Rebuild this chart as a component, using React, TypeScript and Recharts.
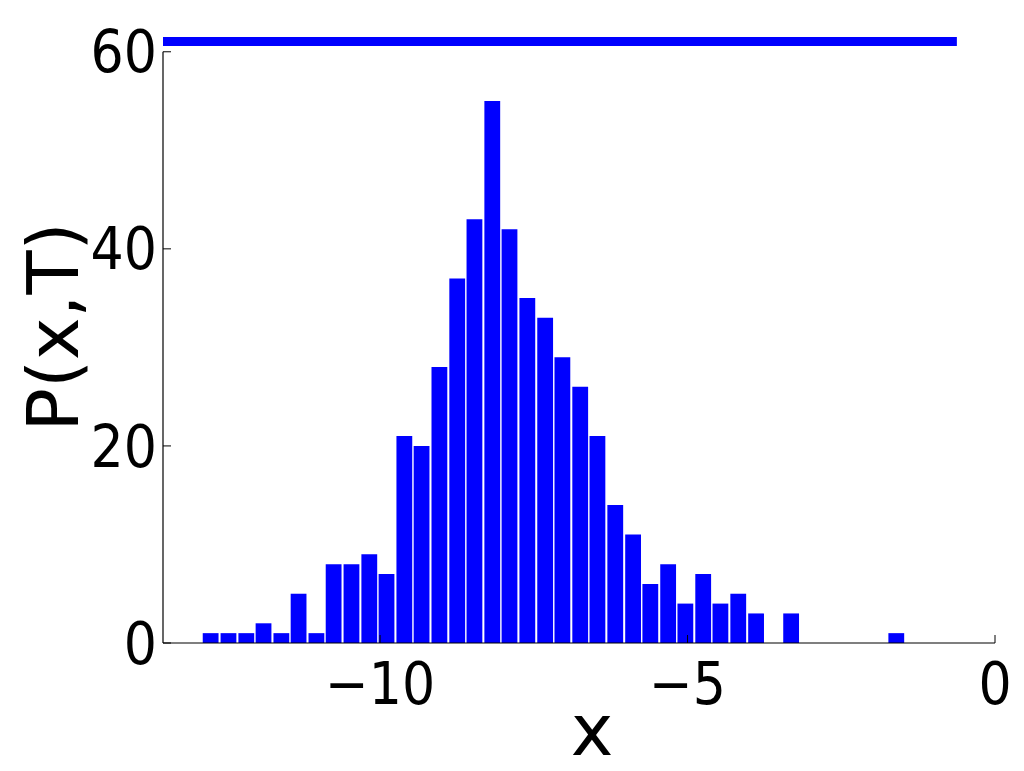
import { ComposedChart, Bar, Line, XAxis, YAxis, ReferenceLine } from "recharts";

// histogram bins (centres) and counts
const binCenters = [
  -12.76, -12.47, -12.18, -11.9, -11.61, -11.33, -11.04, -10.76, -10.47, -10.18,
  -9.9, -9.61, -9.33, -9.04, -8.75, -8.47, -8.18, -7.9, -7.61, -7.32,
  -7.04, -6.75, -6.47, -6.18, -5.89, -5.61, -5.32, -5.04, -4.75, -4.47,
  -4.18, -3.89, -3.61, -3.32, -3.04, -2.75, -2.46, -2.18, -1.89, -1.61,
];
const counts = [
  1, 1, 1, 2, 1, 5, 1, 8, 8, 9,
  7, 21, 20, 28, 37, 43, 55, 42, 35, 33,
  29, 26, 21, 14, 11, 6, 8, 4, 7, 4,
  5, 3, 0, 3, 0, 0, 0, 0, 0, 1,
];

// flat band drawn across the top
const topLineX = [-13.53, -0.62];
const topLineY = [61.05, 61.05];

const xDomain = [-13.53, 0];
const yDomain = [0, 61.5];
const xTicks = [-10, -5, 0];
const yTicks = [0, 20, 40, 60];

const histData = binCenters.map((x, i) => ({ x, count: counts[i] }));
const topLineData = topLineX.map((x, i) => ({ x, p: topLineY[i] }));

const BLUE = "#0000ff";
const FONT = "'DejaVu Sans', sans-serif";
const TICK_FONT = "'DejaVu Sans Condensed', 'DejaVu Sans', sans-serif";

// mathtext-like label: tight minus sign
function XTick({ x, y, payload }: { x?: number; y?: number; payload?: { value: number } }) {
  const v = payload?.value ?? 0;
  const label = v < 0 ? `\u2212${Math.abs(v)}` : `${v}`;
  return (
    <text x={x} y={y} dy="0.71em" textAnchor="middle" fontSize={58} fontFamily={TICK_FONT} fill="#000">
      {label}
    </text>
  );
}

export default function App() {
  return (
    <div style={{ position: "absolute", left: 0, top: 0, width: 1024, height: 771, background: "#fff" }}>
      <ComposedChart
        width={1024}
        height={771}
        data={histData}
        margin={{ top: 37, right: 29, bottom: 0, left: 0 }}
      >
        <XAxis
          dataKey="x"
          type="number"
          domain={xDomain}
          allowDataOverflow
          ticks={xTicks}
          interval={0}
          height={128}
          tickSize={-8}
          tickMargin={28}
          axisLine={{ stroke: "#000", strokeWidth: 1.2 }}
          tickLine={{ stroke: "#000", strokeWidth: 1 }}
          tick={<XTick />}
          label={{
            content: () => (
              <text x={592} y={755} textAnchor="middle" fontSize={72} fontFamily={FONT} fill="#000">
                x
              </text>
            ),
          }}
        />
        <YAxis
          type="number"
          domain={yDomain}
          allowDataOverflow
          ticks={yTicks}
          interval={0}
          width={163}
          tickSize={-8}
          tickMargin={14}
          axisLine={false}
          tickLine={{ stroke: "#000", strokeWidth: 1 }}
          tick={{ fill: "#000", fontSize: 58, fontFamily: TICK_FONT }}
          label={{
            content: () => (
              <text
                x={78}
                y={327}
                transform="rotate(-90 78 327)"
                textAnchor="middle"
                fontSize={72}
                fontFamily={FONT}
                fill="#000"
              >
                P(x,T)
              </text>
            ),
          }}
        />
        <Bar dataKey="count" fill={BLUE} barSize={15.8} isAnimationActive={false} />
        <Line
          data={topLineData}
          dataKey="p"
          stroke={BLUE}
          strokeWidth={9}
          dot={false}
          isAnimationActive={false}
        />
        <ReferenceLine
          segment={[{ x: xDomain[0], y: 0 }, { x: xDomain[0], y: 60 }]}
          stroke="#000"
          strokeWidth={1.2}
        />
      </ComposedChart>
    </div>
  );
}
